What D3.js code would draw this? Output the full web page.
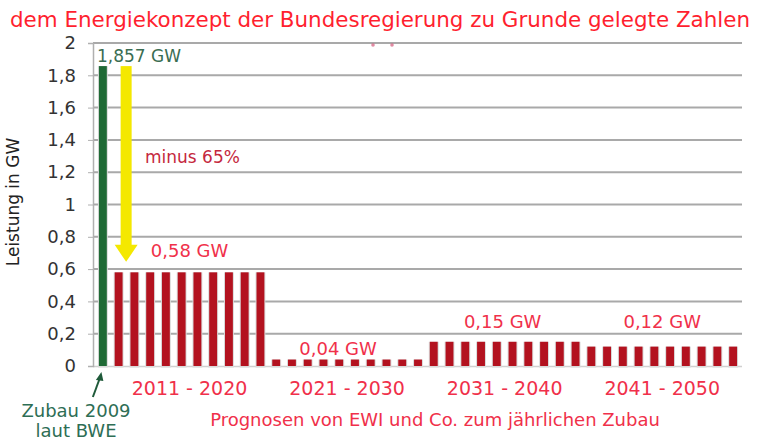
<!DOCTYPE html>
<html>
<head>
<meta charset="utf-8">
<script src="https://cdn.jsdelivr.net/npm/d3@7"></script>
<style>
  html, body { margin: 0; padding: 0; background: #fff; }
  svg { display: block; font-family: "DejaVu Sans", Verdana, sans-serif; }
</style>
</head>
<body>
<svg id="chart" width="758" height="440"></svg>
<script>
// ---- data ----
const years = ["2009",
  "2011","2012","2013","2014","2015","2016","2017","2018","2019","2020",
  "2021","2022","2023","2024","2025","2026","2027","2028","2029","2030",
  "2031","2032","2033","2034","2035","2036","2037","2038","2039","2040",
  "2041","2042","2043","2044","2045","2046","2047","2048","2049","2050"];
const values = [1.857,
  0.58,0.58,0.58,0.58,0.58,0.58,0.58,0.58,0.58,0.58,
  0.04,0.04,0.04,0.04,0.04,0.04,0.04,0.04,0.04,0.04,
  0.15,0.15,0.15,0.15,0.15,0.15,0.15,0.15,0.15,0.15,
  0.12,0.12,0.12,0.12,0.12,0.12,0.12,0.12,0.12,0.12];
const groupLabels = ["2011 - 2020", "2021 - 2030", "2031 - 2040", "2041 - 2050"];
const groupValueLabels = ["0,58 GW", "0,04 GW", "0,15 GW", "0,12 GW"];
const groupValues = [0.58, 0.04, 0.15, 0.12];
const yTicks = [0, 0.2, 0.4, 0.6, 0.8, 1, 1.2, 1.4, 1.6, 1.8, 2];
const yTickLabels = ["0", "0,2", "0,4", "0,6", "0,8", "1", "1,2", "1,4", "1,6", "1,8", "2"];
const titleText = "dem Energiekonzept der Bundesregierung zu Grunde gelegte Zahlen";
const yAxisTitle = "Leistung in GW";
const xAxisTitle = "Prognosen von EWI und Co. zum jährlichen Zubau";
const firstLabel = "1,857 GW";
const minusLabel = "minus 65%";
const zubauLines = ["Zubau 2009", "laut BWE"];

// ---- layout ----
const svg = d3.select("#chart");
const plotLeft = 93, plotRight = 742, plotTop = 43, plotBottom = 366;

const y = d3.scaleLinear().domain([0, 2]).range([plotBottom, plotTop]);
const x = d3.scaleBand().domain(years).range([95, 741]).paddingInner(0.5).paddingOuter(0.25);

const RED = "#b3121f", GREEN = "#1f6a35", LABELRED = "#f0304a";

// title
svg.append("text")
  .attr("x", 10).attr("y", 27)
  .attr("font-size", 21)
  .attr("fill", "#ff1f2f")
  .attr("textLength", 740)
  .attr("lengthAdjust", "spacingAndGlyphs")
  .text(titleText);

// gridlines
svg.append("g").selectAll("line")
  .data(yTicks.filter(d => d > 0))
  .join("line")
  .attr("x1", plotLeft).attr("x2", plotRight)
  .attr("y1", d => y(d)).attr("y2", d => y(d))
  .attr("stroke", "#a9a9a9").attr("stroke-width", 2);

// zero line
svg.append("line")
  .attr("x1", plotLeft).attr("x2", plotRight)
  .attr("y1", y(0) + 0.5).attr("y2", y(0) + 0.5)
  .attr("stroke", "#d0d0d0").attr("stroke-width", 1.5);

// y axis
const yAxis = d3.axisLeft(y).tickValues(yTicks)
  .tickFormat((d, i) => yTickLabels[i]).tickSize(5).tickPadding(12);
const gy = svg.append("g").attr("transform", `translate(${plotLeft},0)`).call(yAxis);
gy.select(".domain").attr("stroke", "#b0b0b0").attr("stroke-width", 1.5);
gy.selectAll(".tick line").attr("stroke", "#b0b0b0");
gy.selectAll(".tick text").attr("font-size", 18).attr("fill", "#333")
  .attr("font-family", "DejaVu Sans, sans-serif");

// y axis title
svg.append("text")
  .attr("transform", "translate(19,202) rotate(-90)")
  .attr("text-anchor", "middle")
  .attr("font-size", 17).attr("fill", "#222")
  .text(yAxisTitle);

// small marks near top
svg.append("g").selectAll("circle").data([373, 392]).join("circle")
  .attr("cx", d => d).attr("cy", 45).attr("r", 1.8).attr("fill", "#d4587a").attr("opacity", 0.7);

// bar shadows
svg.append("g").selectAll("rect")
  .data(years)
  .join("rect")
  .attr("x", d => x(d) - 1)
  .attr("width", x.bandwidth() + 2)
  .attr("y", (d, i) => y(values[i]))
  .attr("height", (d, i) => y(0) - y(values[i]) + 1.5)
  .attr("fill", "#dadada");

// bars
svg.append("g").selectAll("rect")
  .data(years)
  .join("rect")
  .attr("x", d => x(d))
  .attr("width", x.bandwidth())
  .attr("y", (d, i) => y(values[i]))
  .attr("height", (d, i) => y(0) - y(values[i]))
  .attr("fill", (d, i) => i === 0 ? GREEN : RED);

// yellow arrow
const ax = x(years[1]) + x.bandwidth() / 2 + 7.5;
const aTop = y(values[0]);
const aTip = y(0.645);
svg.append("rect").attr("x", ax - 5.5).attr("width", 11)
  .attr("y", aTop).attr("height", aTip - 17 - aTop + 1).attr("fill", "#f4e800");
svg.append("path")
  .attr("d", `M${ax - 11.5},${aTip - 17} L${ax + 11.5},${aTip - 17} L${ax},${aTip} Z`)
  .attr("fill", "#f4e800");

// 1,857 GW label
svg.append("text").attr("x", 97).attr("y", 62)
  .attr("font-size", 17).attr("fill", "#3a6d52").text(firstLabel);

// minus 65%
svg.append("text").attr("x", 145).attr("y", 163)
  .attr("font-size", 17).attr("fill", "#c5283e").text(minusLabel);

// group centers
const groupCenter = g => {
  const a = years[1 + g * 10], b = years[10 + g * 10];
  return (x(a) + x(b) + x.bandwidth()) / 2;
};
const valueLabelDy = [-15, -4.5, -14, -18.5];
const valueLabelDx = [0, -9, -2, 0];
svg.append("g").selectAll("text")
  .data(groupValueLabels)
  .join("text")
  .attr("x", (d, i) => groupCenter(i) + valueLabelDx[i])
  .attr("y", (d, i) => y(groupValues[i]) + valueLabelDy[i])
  .attr("text-anchor", "middle")
  .attr("font-size", 18).attr("fill", LABELRED)
  .text(d => d);

// group category labels
svg.append("g").selectAll("text")
  .data(groupLabels)
  .join("text")
  .attr("x", (d, i) => groupCenter(i))
  .attr("y", 395)
  .attr("text-anchor", "middle")
  .attr("font-size", 19).attr("fill", LABELRED)
  .text(d => d);

// x axis title
svg.append("text").attr("x", 435).attr("y", 426)
  .attr("text-anchor", "middle")
  .attr("font-size", 18).attr("fill", LABELRED)
  .text(xAxisTitle);

// Zubau 2009 label
svg.append("g").selectAll("text").data(zubauLines).join("text")
  .attr("x", 76).attr("y", (d, i) => 417 + i * 20)
  .attr("text-anchor", "middle")
  .attr("font-size", 18).attr("fill", "#2e6e55")
  .text(d => d);

// small green arrow
const gx = x(years[0]) + x.bandwidth() / 2;
svg.append("line").attr("x1", gx - 10).attr("y1", 397).attr("x2", gx - 3).attr("y2", 378)
  .attr("stroke", "#1f5a3a").attr("stroke-width", 2);
svg.append("path")
  .attr("d", `M${gx - 1.5},${372} L${gx - 7},${380} L${gx + 0.5},${381} Z`)
  .attr("fill", "#1f5a3a");
</script>
</body>
</html>
